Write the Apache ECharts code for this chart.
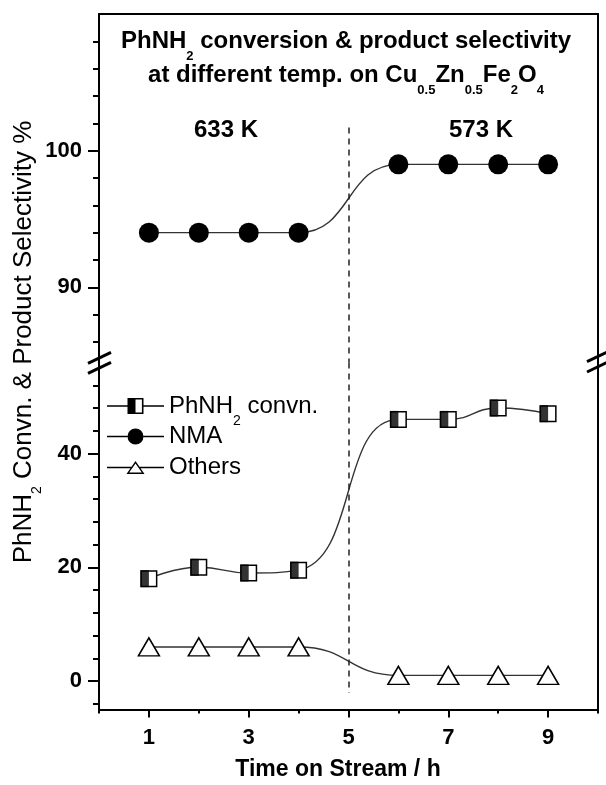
<!DOCTYPE html>
<html>
<head>
<meta charset="utf-8">
<script src="https://cdn.jsdelivr.net/npm/echarts@6/dist/echarts.min.js"></script>
<style>
  html, body { margin: 0; padding: 0; background: #fff; }
  #chart { width: 606px; height: 785px; }
</style>
</head>
<body>
<div id="chart"></div>
<script>
// Time on stream (h) and measured values
const hours = [1, 2, 3, 4, 6, 7, 8, 9];
const nmaSelectivity = [94, 94, 94, 94, 99, 99, 99, 99];
const phnh2Conversion = [18, 20, 19, 19.5, 46, 46, 48, 47];
const othersSelectivity = [6, 6, 6, 6, 1, 1, 1, 1];

// Axis ticks
const xMajorTicks = [1, 3, 5, 7, 9];
const xMinorTicks = [0, 2, 4, 6, 8, 10];
const upperMajorTicks = [90, 100];
const upperMinorTicks = [86, 88, 92, 94, 96, 98, 102, 104, 106, 108];
const lowerMajorTicks = [0, 20, 40];
const lowerMinorTicks = [-4, 4, 8, 12, 16, 24, 28, 32, 36, 44, 48, 52];

// Temperature switch
const switchHour = 5;
const temperatureLabels = ['633 K', '573 K'];
const seriesNames = ['PhNH2 convn.', 'NMA', 'Others'];

const FONT = "'Liberation Sans', Arial, Helvetica, sans-serif";
const AXIS_W = 2;

const upper = { min: 84.5, max: 110 };
const lower = { min: -5, max: 56 };
const dashTop = 101.7, dashBottom = -2.1;

function pairs(ys) { return hours.map((h, i) => [h, ys[i]]); }

const tickLabel = { fontFamily: FONT, fontSize: 22, fontWeight: 'bold', color: '#000', margin: 17 };

function frameAxis(extra) {
  return Object.assign({
    type: 'value',
    axisLine: { show: true, onZero: false, lineStyle: { color: '#000', width: AXIS_W } },
    axisTick: { show: false },
    axisLabel: { show: false },
    splitLine: { show: false }
  }, extra);
}

function tickAxis(extra, ticks, len, labels) {
  return frameAxis(Object.assign(extra, {
    axisLine: { show: extra.showLine !== false, onZero: false, lineStyle: { color: '#000', width: AXIS_W } },
    axisTick: { show: true, inside: false, length: len, customValues: ticks, lineStyle: { color: '#000', width: AXIS_W } },
    axisLabel: labels ? Object.assign({ show: true, customValues: ticks }, tickLabel) : { show: false }
  }));
}

// legend glyphs: a line with the marker in the middle (57 x 16 box)
const squareIcon = 'path://M0 7.3H20.5V8.7H0Z M36.5 7.3H57V8.7H36.5Z M20.5 0H36.5V16H20.5Z M28.5 1.6V14.4H34.9V1.6Z';
const circleIcon = 'path://M0 7.3H20.5V8.7H0Z M36.5 7.3H57V8.7H36.5Z M20.5 8A8 8 0 1 1 36.5 8A8 8 0 1 1 20.5 8Z';
const triangleIcon = 'path://M0 0H0.01V0.01H0Z M0 15.99H0.01V16H0Z M0 7.3H24.4V8.7H0Z M32.6 7.3H57V8.7H32.6Z M28.5 1.5L37.5 14.5H19.5Z M28.5 3.96L22.17 13.1H34.83Z';
const legendIcons = [squareIcon, circleIcon, triangleIcon];
const legendTops = [384, 424.5, 455.5];

const curve = { color: '#333', width: 1.4 };
const dashStyle = { type: [6, 5], color: '#222', width: 1.5 };

function dashedSwitch(top, bottom) {
  return {
    silent: true, symbol: ['none', 'none'], label: { show: false },
    lineStyle: dashStyle, emphasis: { disabled: true },
    data: [[{ coord: [switchHour, top] }, { coord: [switchHour, bottom] }]]
  };
}

function tok(size, weight, lh, pad) {
  const s = { fontFamily: FONT, fontSize: size, fontWeight: weight, lineHeight: lh, fill: '#000', color: '#000' };
  if (pad) s.padding = [pad, 0, 0, 0];
  return s;
}

function legendFor(i) {
  return {
    orient: 'vertical', left: 107, top: legendTops[i], padding: 0,
    itemWidth: 57, itemHeight: 16,
    selectedMode: false,
    itemStyle: { color: '#000', borderWidth: 0 },
    data: [{ name: seriesNames[i], icon: legendIcons[i], itemStyle: { color: '#000', borderWidth: 0 } }],
    formatter: function (name) {
      if (name === seriesNames[0]) return '{n|PhNH}{s|2}{n| convn.}';
      return '{n|' + name + '}';
    },
    textStyle: {
      fontFamily: FONT, fontSize: 24, color: '#000', lineHeight: 16,
      rich: {
        n: { fontFamily: FONT, fontSize: 24, color: '#000', lineHeight: 16 },
        s: { fontFamily: FONT, fontSize: 14, color: '#000', lineHeight: 16, padding: [30, 0, 0, 0] }
      }
    }
  };
}

const chart = echarts.init(document.getElementById('chart'), null, { renderer: 'canvas' });

chart.setOption({
  animation: false,
  backgroundColor: '#fff',
  grid: [
    { left: 99, top: 14, width: 499, height: 348.5, containLabel: false, outerBoundsMode: 'none' },
    { left: 99, top: 362.5, width: 499, height: 347, containLabel: false, outerBoundsMode: 'none' }
  ],
  xAxis: [
    frameAxis({ gridIndex: 0, position: 'top', min: 0, max: 10 }),
    tickAxis({ gridIndex: 1, position: 'bottom', min: 0, max: 10 }, xMajorTicks, 8, true),
    tickAxis({ gridIndex: 1, position: 'bottom', min: 0, max: 10, showLine: false }, xMinorTicks, 4, false)
  ],
  yAxis: [
    tickAxis({ gridIndex: 0, position: 'left', min: upper.min, max: upper.max }, upperMajorTicks, 11, true),
    tickAxis({ gridIndex: 0, position: 'left', min: upper.min, max: upper.max, showLine: false }, upperMinorTicks, 6, false),
    frameAxis({ gridIndex: 0, position: 'right', min: upper.min, max: upper.max }),
    tickAxis({ gridIndex: 1, position: 'left', min: lower.min, max: lower.max }, lowerMajorTicks, 11, true),
    tickAxis({ gridIndex: 1, position: 'left', min: lower.min, max: lower.max, showLine: false }, lowerMinorTicks, 6, false),
    frameAxis({ gridIndex: 1, position: 'right', min: lower.min, max: lower.max })
  ],
  legend: [legendFor(0), legendFor(1), legendFor(2)],
  series: [
    {
      name: seriesNames[1], type: 'line', xAxisIndex: 0, yAxisIndex: 0,
      data: pairs(nmaSelectivity), smooth: 0.5,
      symbol: 'circle', symbolSize: 20,
      itemStyle: { color: '#000' }, lineStyle: curve,
      emphasis: { disabled: true },
      markLine: dashedSwitch(dashTop, upper.min)
    },
    {
      name: seriesNames[0], type: 'line', xAxisIndex: 1, yAxisIndex: 3,
      data: pairs(phnh2Conversion), smooth: 0.5,
      symbol: 'rect', symbolSize: 15.5,
      itemStyle: { color: '#fff', borderColor: '#000', borderWidth: 1.5 }, lineStyle: curve,
      emphasis: { disabled: true },
      markLine: dashedSwitch(lower.max, dashBottom)
    },
    {
      // dark left half of the conversion markers
      name: 'PhNH2 convn. fill', type: 'scatter', xAxisIndex: 1, yAxisIndex: 3,
      data: pairs(phnh2Conversion),
      symbol: 'rect', symbolSize: [8.5, 17], symbolOffset: [-4.25, 0],
      itemStyle: { color: '#000' }, z: 5, silent: true,
      emphasis: { disabled: true }
    },
    {
      name: seriesNames[2], type: 'line', xAxisIndex: 1, yAxisIndex: 3,
      data: pairs(othersSelectivity), smooth: 0.5,
      symbol: 'triangle', symbolSize: [21, 18],
      itemStyle: { color: '#fff', borderColor: '#000', borderWidth: 1.5 }, lineStyle: curve,
      emphasis: { disabled: true }
    }
  ],
  graphic: [
    {
      type: 'text', x: 346, y: 24, z: 10,
      style: {
        text: '{n|PhNH}{s|2}{n| conversion & product selectivity}\n{n|at different temp. on Cu}{s|0.5}{n|Zn}{s|0.5}{n|Fe}{s|2}{n|O}{s|4}',
        align: 'center', textAlign: 'center', verticalAlign: 'top', textVerticalAlign: 'top',
        fontFamily: FONT, fontSize: 24, fontWeight: 'bold', fill: '#000',
        rich: { n: tok(24, 'bold', 34), s: tok(13, 'bold', 34, 31) }
      }
    },
    {
      type: 'text', x: 226, y: 130, z: 10,
      style: { text: temperatureLabels[0], align: 'center', textAlign: 'center', verticalAlign: 'middle', textVerticalAlign: 'middle',
        fontFamily: FONT, fontSize: 24, fontWeight: 'bold', fill: '#000' }
    },
    {
      type: 'text', x: 481, y: 130, z: 10,
      style: { text: temperatureLabels[1], align: 'center', textAlign: 'center', verticalAlign: 'middle', textVerticalAlign: 'middle',
        fontFamily: FONT, fontSize: 24, fontWeight: 'bold', fill: '#000' }
    },
    {
      type: 'text', x: 24, y: 342, rotation: Math.PI / 2, z: 10,
      style: {
        text: '{n|PhNH}{s|2}{n| Convn. & Product Selectivity %}',
        align: 'center', textAlign: 'center', verticalAlign: 'middle', textVerticalAlign: 'middle',
        fontFamily: FONT, fontSize: 26, fill: '#000',
        rich: { n: tok(26, 'normal', 30), s: tok(14, 'normal', 30, 26) }
      }
    },
    {
      type: 'text', x: 338, y: 770, z: 10,
      style: { text: 'Time on Stream / h', align: 'center', textAlign: 'center', verticalAlign: 'middle', textVerticalAlign: 'middle',
        fontFamily: FONT, fontSize: 23, fontWeight: 'bold', fill: '#000' }
    },
    // axis break marks
    { type: 'line', z: 20, shape: { x1: 88, y1: 363.3, x2: 111, y2: 352.3 }, style: { stroke: '#000', lineWidth: 3 } },
    { type: 'line', z: 20, shape: { x1: 88, y1: 373.3, x2: 111, y2: 362.3 }, style: { stroke: '#000', lineWidth: 3 } },
    { type: 'line', z: 20, shape: { x1: 587, y1: 361.7, x2: 609, y2: 351.2 }, style: { stroke: '#000', lineWidth: 3 } },
    { type: 'line', z: 20, shape: { x1: 587, y1: 372, x2: 609, y2: 361.5 }, style: { stroke: '#000', lineWidth: 3 } }
  ]
});
</script>
</body>
</html>
